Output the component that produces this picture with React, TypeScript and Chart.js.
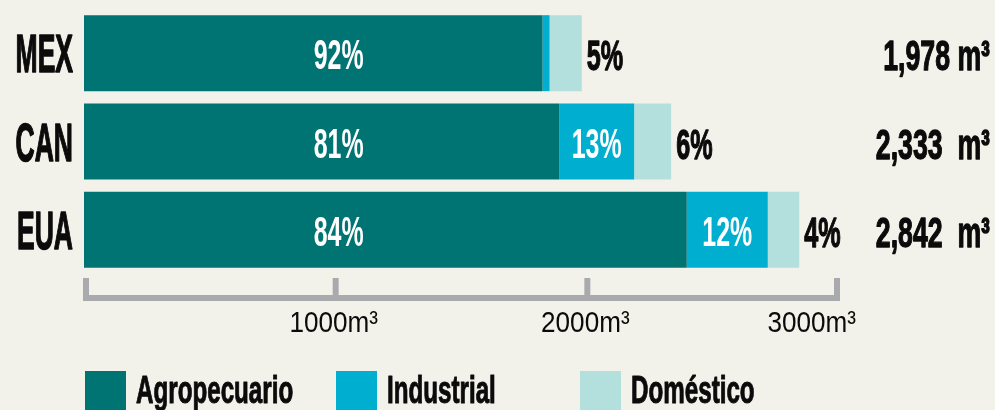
import React, { useEffect, useRef } from "react";
import { Chart, registerables } from "chart.js";

Chart.register(...registerables);

// ---- Data ----
const countries = ["MEX", "CAN", "EUA"];
const seriesNames = ["Agropecuario", "Industrial", "Doméstico"];
const agropecuario = [1822, 1888, 2395];
const industrial = [28, 298, 322];
const domestico = [128, 147, 125];
const agroPctLabels = ["92%", "81%", "84%"];
const indPctLabels = ["", "13%", "12%"];
const domPctLabels = ["5%", "6%", "4%"];
const totalLabels = ["1,978 m³", "2,333  m³", "2,842  m³"];
const xTickValues = [0, 1000, 2000, 3000];
const xTickLabels = ["", "1000m³", "2000m³", "3000m³"];

// ---- Styles ----
const COLORS = ["#007373", "#00aecf", "#b3dfdc"];
const BG = "#f3f2ea";
const AXIS = "#a9aaad";
const INK = "#0b0b0b";
const FONT = '"Liberation Sans", Arial, sans-serif';

type TOpts = {
  size: number;
  weight?: string;
  color?: string;
  sx?: number;
  align?: CanvasTextAlign;
  stroke?: number;
};

function drawText(ctx: CanvasRenderingContext2D, text: string, x: number, y: number, o: TOpts) {
  if (!text) return;
  const sx = o.sx ?? 1;
  ctx.save();
  ctx.font = `${o.weight ?? "bold"} ${o.size}px ${FONT}`;
  ctx.fillStyle = o.color ?? INK;
  ctx.textAlign = o.align ?? "left";
  ctx.textBaseline = "alphabetic";
  ctx.scale(sx, 1);
  ctx.fillText(text, x / sx, y);
  if (o.stroke) {
    ctx.strokeStyle = o.color ?? INK;
    ctx.lineWidth = o.stroke;
    ctx.lineJoin = "round";
    ctx.strokeText(text, x / sx, y);
  }
  ctx.restore();
}

const decorPlugin = {
  id: "decor",
  beforeDraw(chart: any) {
    const ctx = chart.ctx as CanvasRenderingContext2D;
    ctx.save();
    ctx.fillStyle = BG;
    ctx.fillRect(0, 0, chart.width, chart.height);
    ctx.restore();
  },
  afterDraw(chart: any) {
    const ctx = chart.ctx as CanvasRenderingContext2D;
    const xs = chart.scales.x;
    const ys = chart.scales.y;

    // Category labels (left)
    countries.forEach((c, i) => {
      const cy = ys.getPixelForValue(i);
      drawText(ctx, c, 73, cy + 19, { size: 53, sx: 0.5, align: "right", stroke: 1.5 });
    });

    const indMeta = chart.getDatasetMeta(1);
    const domMeta = chart.getDatasetMeta(2);
    countries.forEach((_, i) => {
      const cy = ys.getPixelForValue(i);
      // agro label
      drawText(ctx, agroPctLabels[i], xs.getPixelForValue(1000) + 3, cy + 16, {
        size: 43, sx: 0.58, align: "center", color: "#ffffff",
      });
      // industrial label
      const ie = indMeta.data[i];
      drawText(ctx, indPctLabels[i], (ie.x + ie.base) / 2, cy + 16, {
        size: 43, sx: 0.58, align: "center", color: "#ffffff",
      });
      // domestic label, right of bar
      const de = domMeta.data[i];
      drawText(ctx, domPctLabels[i], de.x + 5, cy + 17, {
        size: 42, sx: 0.6, align: "left", stroke: 1.3,
      });
      // totals
      drawText(ctx, totalLabels[i], 990, cy + 17, {
        size: 42, sx: 0.635, align: "right", stroke: 1.3,
      });
    });

    // x axis: line with upward ticks
    const p0 = xs.getPixelForValue(xTickValues[0]);
    const pN = xs.getPixelForValue(xTickValues[xTickValues.length - 1]);
    ctx.save();
    ctx.fillStyle = AXIS;
    ctx.fillRect(p0 - 1, 295, pN - p0 + 2, 6);
    xTickValues.forEach((v, k) => {
      const px = xs.getPixelForValue(v);
      let left = px - 3;
      if (k === 0) left = p0 - 1;
      if (k === xTickValues.length - 1) left = pN - 5;
      ctx.fillRect(left, 278, 6, 23);
    });
    ctx.restore();
    xTickValues.forEach((v, k) => {
      const last = k === xTickValues.length - 1;
      const px = xs.getPixelForValue(v);
      drawText(ctx, xTickLabels[k], last ? px + 17 : px - 2, 332, {
        size: 30, weight: "normal", sx: 0.87, align: last ? "right" : "center",
      });
    });

    // legend
    const legendX = [85, 336, 580];
    chart.data.datasets.forEach((ds: any, k: number) => {
      ctx.save();
      ctx.fillStyle = ds.backgroundColor;
      ctx.fillRect(legendX[k], 371, 41, 39);
      ctx.restore();
      drawText(ctx, ds.label, legendX[k] + 51, 403, { size: 39, sx: 0.62, align: "left", stroke: 1 });
    });
  },
};

export default function App() {
  const ref = useRef<HTMLCanvasElement | null>(null);

  useEffect(() => {
    document.body.style.margin = "0";
    document.body.style.background = BG;
    const canvas = ref.current;
    if (!canvas) return;
    const chart = new Chart(canvas, {
      type: "bar",
      data: {
        labels: countries,
        datasets: [
          { label: seriesNames[0], data: agropecuario, backgroundColor: COLORS[0] },
          { label: seriesNames[1], data: industrial, backgroundColor: COLORS[1] },
          { label: seriesNames[2], data: domestico, backgroundColor: COLORS[2] },
        ],
      },
      options: {
        indexAxis: "y",
        responsive: false,
        devicePixelRatio: 1,
        animation: false,
        layout: { padding: { left: 84, right: 156, top: 9, bottom: 136 } },
        datasets: {
          bar: { barPercentage: 0.86, categoryPercentage: 1, borderWidth: 0 },
        },
        scales: {
          x: { stacked: true, min: 0, max: 3000, display: false },
          y: { stacked: true, display: false },
        },
        plugins: {
          legend: { display: false },
          tooltip: { enabled: false },
        },
      },
      plugins: [decorPlugin],
    });
    return () => chart.destroy();
  }, []);

  return (
    <div style={{ position: "fixed", left: 0, top: 0, width: 995, height: 410, background: BG }}>
      <canvas ref={ref} width={995} height={410} style={{ display: "block" }} />
    </div>
  );
}
